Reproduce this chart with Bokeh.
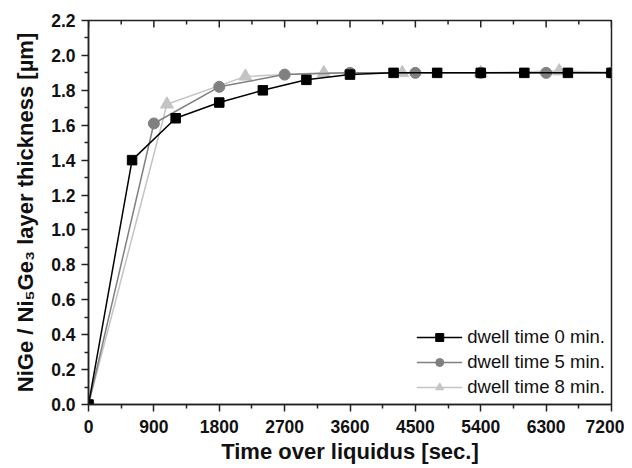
import math
from bokeh.plotting import figure
from bokeh.models import FixedTicker, PrintfTickFormatter, Range1d, Legend, LegendItem
from bokeh.embed import file_html
from bokeh.resources import INLINE

# data
t0 = [0, 600, 1200, 1800, 2400, 3000, 3600, 4200, 4800, 5400, 6000, 6600, 7200]
d0 = [0.0, 1.40, 1.64, 1.73, 1.80, 1.86, 1.89, 1.90, 1.90, 1.90, 1.90, 1.90, 1.90]
t5 = [0, 900, 1800, 2700, 3600, 4500, 5400, 6300, 7200]
d5 = [0.0, 1.61, 1.82, 1.89, 1.90, 1.90, 1.90, 1.90, 1.90]
t8 = [0, 1080, 2160, 3240, 4320, 5400, 6480, 7560]
d8 = [0.0, 1.72, 1.88, 1.90, 1.90, 1.90, 1.91, 1.90]
labels = ["dwell time 0 min.", "dwell time 5 min.", "dwell time 8 min."]
x_ticks = [0, 900, 1800, 2700, 3600, 4500, 5400, 6300, 7200]
x_minor = [450, 1350, 2250, 3150, 4050, 4950, 5850, 6750]
y_ticks = [0.0, 0.2, 0.4, 0.6, 0.8, 1.0, 1.2, 1.4, 1.6, 1.8, 2.0, 2.2]
y_minor = [0.1, 0.3, 0.5, 0.7, 0.9, 1.1, 1.3, 1.5, 1.7, 1.9, 2.1]
y_top = 2.2

FONT = "Liberation Sans"
AX = "#222222"

p = figure(width=624, height=468, output_backend="svg", toolbar_location=None,
           x_range=Range1d(0, 7200), y_range=Range1d(0, y_top),
           min_border_left=88, min_border_right=13, min_border_top=20, min_border_bottom=64)
p.grid.visible = False
p.outline_line_color = AX
p.outline_line_width = 1.5

for ax in (p.xaxis[0], p.yaxis[0]):
    ax.axis_line_color = AX
    ax.axis_line_width = 1.5
    ax.major_tick_line_color = AX
    ax.minor_tick_line_color = AX
    ax.major_tick_line_width = 1.5
    ax.minor_tick_line_width = 1.5
    ax.major_tick_out = 7
    ax.major_tick_in = 0
    ax.minor_tick_out = 4
    ax.minor_tick_in = 0
    ax.major_label_text_font = FONT
    ax.major_label_text_font_style = "bold"
    ax.major_label_text_font_size = "17.5px"
    ax.major_label_text_color = "#111111"
    ax.axis_label_text_font = FONT
    ax.axis_label_text_font_style = "bold"
    ax.axis_label_text_font_size = "22px"
    ax.axis_label_text_color = "#111111"

p.xaxis[0].ticker = FixedTicker(ticks=x_ticks, minor_ticks=x_minor)
p.yaxis[0].ticker = FixedTicker(ticks=y_ticks, minor_ticks=y_minor)
p.yaxis[0].formatter = PrintfTickFormatter(format="%.1f")
p.xaxis[0].axis_label = "Time over liquidus [sec.]"
p.yaxis[0].axis_label = "NiGe / Ni\u2085Ge\u2083 layer thickness [\u00b5m]"
p.xaxis[0].major_label_standoff = 8
p.xaxis[0].axis_label_standoff = 3
p.yaxis[0].major_label_standoff = 6
p.yaxis[0].axis_label_standoff = 10

# inward ticks along the top frame edge
p.ray(x=x_ticks, y=[y_top] * len(x_ticks), length=7, length_units="screen",
      angle=-math.pi / 2, line_color=AX, line_width=1.5)
p.ray(x=x_minor, y=[y_top] * len(x_minor), length=4, length_units="screen",
      angle=-math.pi / 2, line_color=AX, line_width=1.5)

c0, c5, c8 = "#000000", "#808080", "#c4c4c4"
l8 = p.line(t8, d8, line_color=c8, line_width=1.5)
m8 = p.scatter(t8, d8, marker="triangle", size=13, fill_color=c8, line_color=c8)
l5 = p.line(t5, d5, line_color=c5, line_width=1.5)
m5 = p.scatter(t5, d5, marker="circle", size=11, fill_color=c5, line_color=c5)
l0 = p.line(t0, d0, line_color=c0, line_width=1.5)
m0 = p.scatter(t0, d0, marker="square", size=9.5, fill_color=c0, line_color=c0)

legend = Legend(items=[LegendItem(label=labels[0], renderers=[l0, m0]),
                       LegendItem(label=labels[1], renderers=[l5, m5]),
                       LegendItem(label=labels[2], renderers=[l8, m8])],
                location="bottom_right")
legend.background_fill_alpha = 0
legend.border_line_color = None
legend.label_text_font = FONT
legend.label_text_font_size = "18.5px"
legend.label_text_color = "#111111"
legend.glyph_width = 46
legend.glyph_height = 20
legend.label_height = 20
legend.spacing = 3
legend.label_standoff = 5
legend.padding = 2
legend.margin = 6
p.add_layout(legend)

open("out.html", "w").write(file_html(p, INLINE))
